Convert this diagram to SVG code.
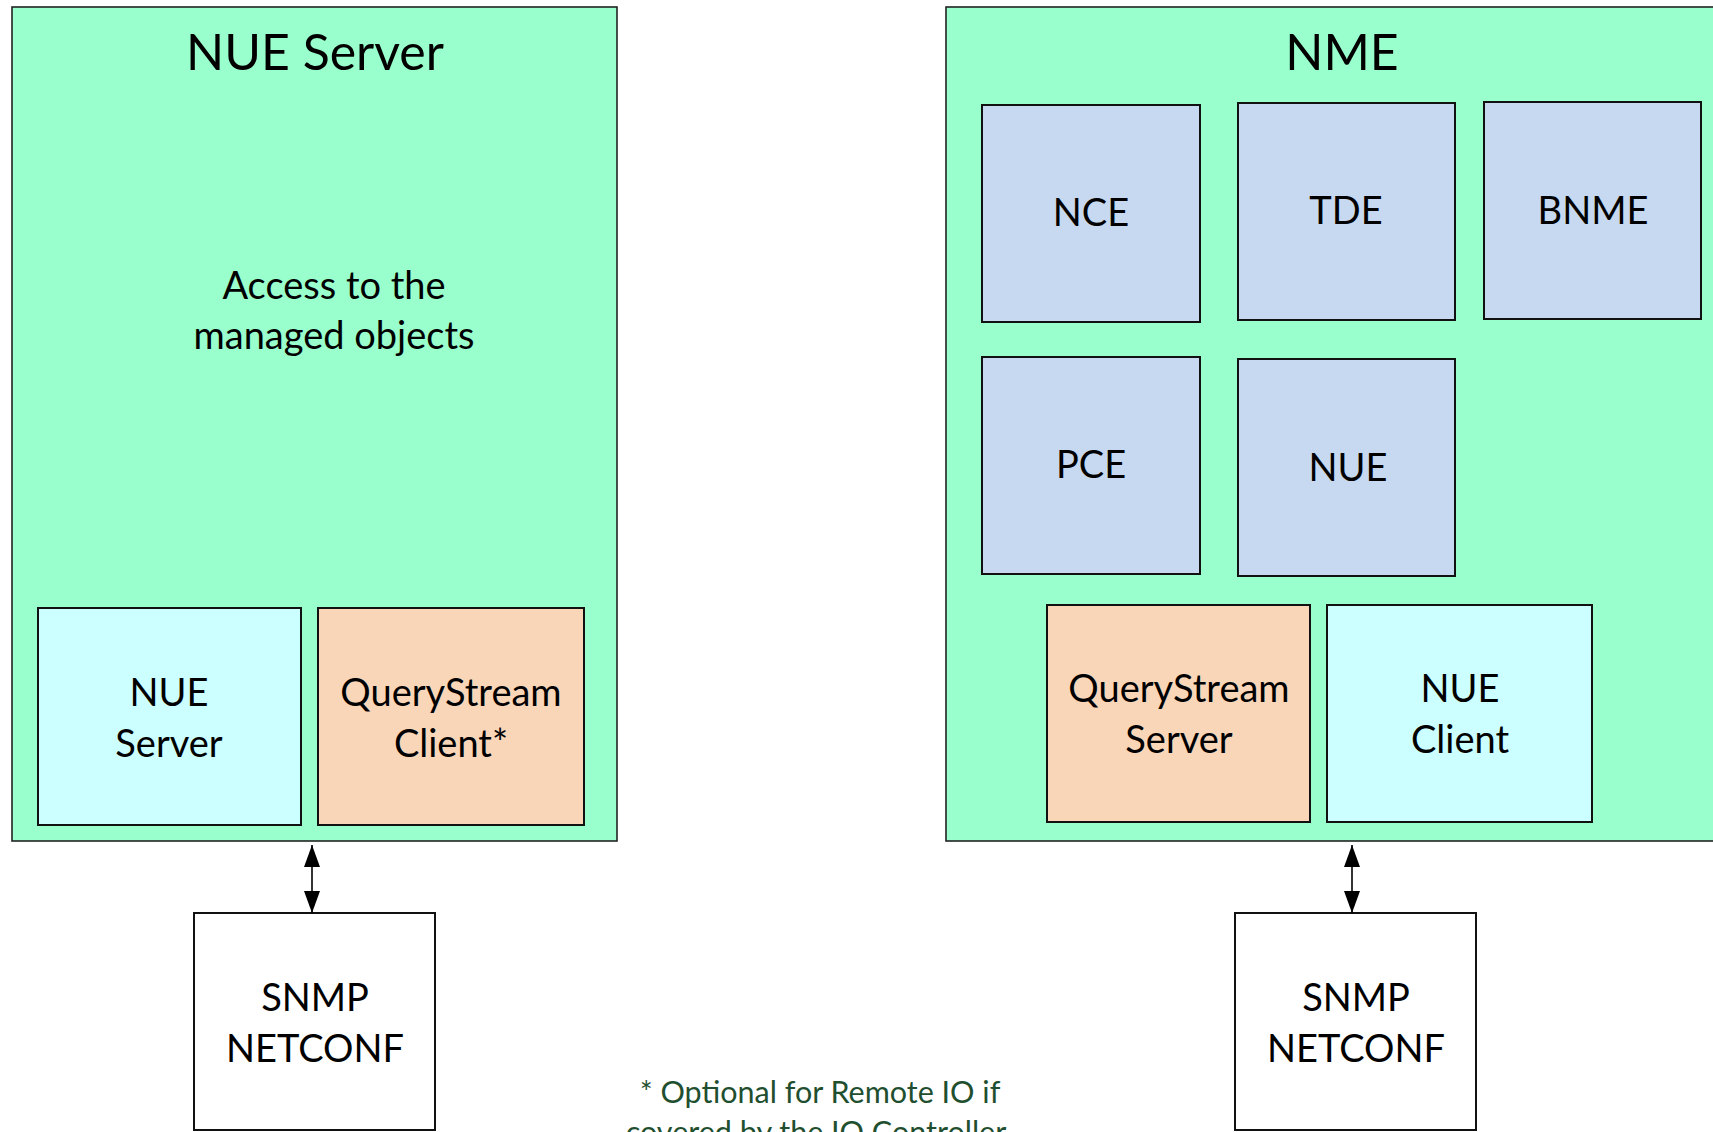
<svg xmlns="http://www.w3.org/2000/svg" width="1713" height="1132" viewBox="0 0 1713 1132">
<style>
text{font-family:Lato,"Liberation Sans",sans-serif;fill:#000;text-anchor:middle}
.t{font-size:38px}
.h{font-size:50px}
.f{font-size:30.5px;fill:#1F4F2F}
.outer{fill:#99FFCC;stroke:#222;stroke-width:1.6}
.blue{fill:#C6D9F0;stroke:#111;stroke-width:2}
.cyan{fill:#CCFFFF;stroke:#111;stroke-width:2}
.peach{fill:#FAD6B9;stroke:#111;stroke-width:2}
.white{fill:#FFFFFF;stroke:#111;stroke-width:2}
.conn{stroke:#000;stroke-width:1.6;fill:none;marker-start:url(#ah);marker-end:url(#ah)}
</style>
<defs>
<marker id="ah" viewBox="0 0 22 16" refX="22" refY="8" markerWidth="22" markerHeight="16" markerUnits="userSpaceOnUse" orient="auto-start-reverse">
<path d="M0,0 L22,8 L0,16 z" fill="#000"/>
</marker>
</defs>
<rect width="1713" height="1132" fill="#fff"/>
<g id="nue-server-panel">
<rect class="outer" x="12" y="7" width="605" height="834"/>
<text class="h" x="315" y="70">NUE Server</text>
<text class="t" x="334" y="299">Access to the</text>
<text class="t" x="334" y="349">managed objects</text>
</g>
<g id="nue-server-box">
<rect class="cyan" x="38" y="608" width="263" height="217"/>
<text class="t" x="169" y="706">NUE</text>
<text class="t" x="169" y="757">Server</text>
</g>
<g id="querystream-client">
<rect class="peach" x="318" y="608" width="266" height="217"/>
<text class="t" x="451" y="706">QueryStream</text>
<text class="t" x="451" y="757">Client*</text>
</g>
<g id="nme-panel">
<rect class="outer" x="946" y="7" width="780" height="834"/>
<text class="h" x="1342" y="70">NME</text>
</g>
<g id="nce">
<rect class="blue" x="982" y="105" width="218" height="217"/>
<text class="t" x="1091" y="226">NCE</text>
</g>
<g id="tde">
<rect class="blue" x="1238" y="103" width="217" height="217"/>
<text class="t" x="1346" y="224">TDE</text>
</g>
<g id="bnme">
<rect class="blue" x="1484" y="102" width="217" height="217"/>
<text class="t" x="1593" y="224">BNME</text>
</g>
<g id="pce">
<rect class="blue" x="982" y="357" width="218" height="217"/>
<text class="t" x="1091" y="478">PCE</text>
</g>
<g id="nue">
<rect class="blue" x="1238" y="359" width="217" height="217"/>
<text class="t" x="1348" y="481">NUE</text>
</g>
<g id="querystream-server">
<rect class="peach" x="1047" y="605" width="263" height="217"/>
<text class="t" x="1179" y="702">QueryStream</text>
<text class="t" x="1179" y="753">Server</text>
</g>
<g id="nue-client">
<rect class="cyan" x="1327" y="605" width="265" height="217"/>
<text class="t" x="1460" y="702">NUE</text>
<text class="t" x="1460" y="753">Client</text>
</g>
<g id="snmp-left">
<rect class="white" x="194" y="913" width="241" height="217"/>
<text class="t" x="315" y="1011">SNMP</text>
<text class="t" x="315" y="1062">NETCONF</text>
</g>
<g id="snmp-right">
<rect class="white" x="1235" y="913" width="241" height="217"/>
<text class="t" x="1356" y="1011">SNMP</text>
<text class="t" x="1356" y="1062">NETCONF</text>
</g>
<g id="connectors">
<line class="conn" x1="312" y1="845" x2="312" y2="913"/>
<line class="conn" x1="1352" y1="845" x2="1352" y2="913"/>
</g>
<g id="footnote">
<text class="f" x="820" y="1103">* Optional for Remote IO if</text>
<text class="f" x="816" y="1143">covered by the IO Controller</text>
</g>
</svg>
